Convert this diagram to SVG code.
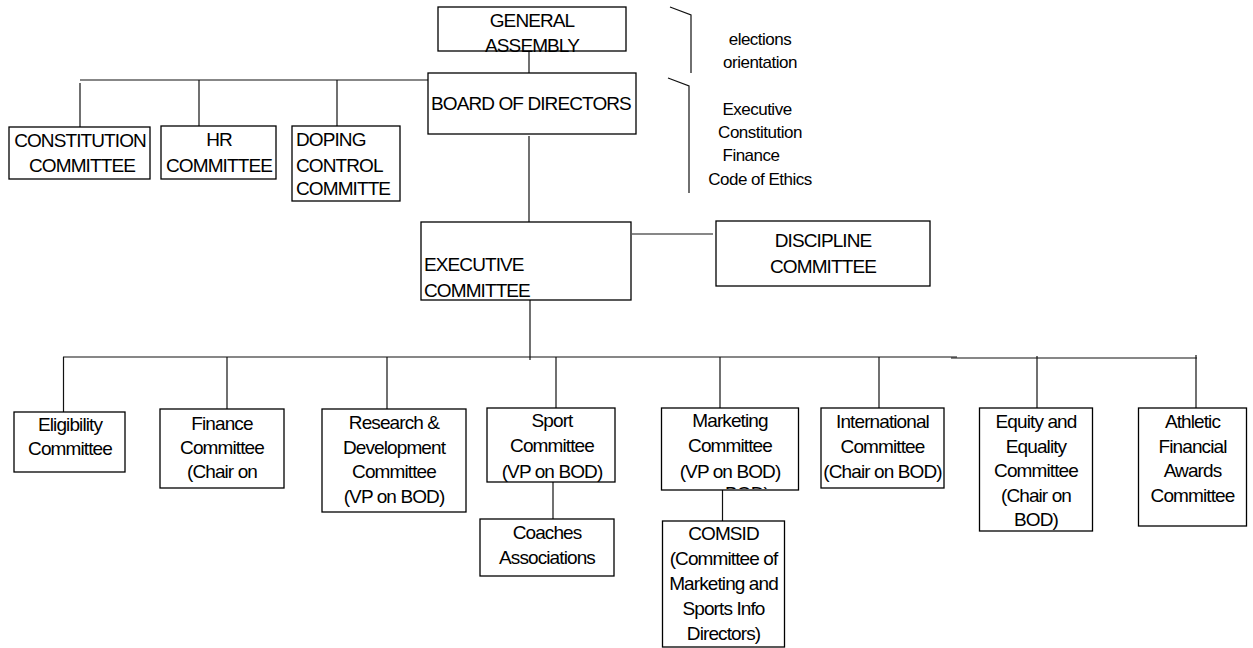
<svg xmlns="http://www.w3.org/2000/svg" width="1253" height="648" viewBox="0 0 1253 648">
<defs>
<style>
.box{fill:#fff;stroke:#000;stroke-width:1.3}
.ln{stroke:#111;stroke-width:1.2;fill:none}
text{font-family:"Liberation Sans",Arial,sans-serif;fill:#000}
.t{font-size:19px;letter-spacing:-0.9px}
.c{text-anchor:middle}
.n{font-size:17px;letter-spacing:-0.5px;text-anchor:middle}
</style>
<clipPath id="mkclip"><rect x="662" y="408" width="136" height="81"/></clipPath>
</defs>
<rect width="1253" height="648" fill="#fff"/>

<g id="connectors">
<line class="ln" x1="529" y1="51" x2="529" y2="73"/>
<line class="ln" x1="80" y1="80" x2="428" y2="80"/>
<line class="ln" x1="80" y1="83" x2="80" y2="127"/>
<line class="ln" x1="199" y1="80" x2="199" y2="126"/>
<line class="ln" x1="337" y1="80" x2="337" y2="126"/>
<line class="ln" x1="529" y1="136" x2="529" y2="222"/>
<line class="ln" x1="632" y1="234" x2="713" y2="234"/>
<line class="ln" x1="530" y1="300" x2="530" y2="360"/>
<line class="ln" x1="63" y1="357" x2="957" y2="357" stroke="#333"/>
<line class="ln" x1="951" y1="358" x2="1197" y2="358"/>
<line class="ln" x1="63.5" y1="357" x2="63.5" y2="412"/>
<line class="ln" x1="227" y1="357" x2="227" y2="409"/>
<line class="ln" x1="387" y1="357" x2="387" y2="409"/>
<line class="ln" x1="556" y1="357" x2="556" y2="408"/>
<line class="ln" x1="720" y1="357" x2="720" y2="408"/>
<line class="ln" x1="879" y1="357" x2="879" y2="408"/>
<line class="ln" x1="1037" y1="356" x2="1037" y2="408"/>
<line class="ln" x1="1196" y1="355" x2="1196" y2="408"/>
<line class="ln" x1="553" y1="482" x2="553" y2="519"/>
<line class="ln" x1="722.5" y1="479" x2="722.5" y2="521"/>
<polyline class="ln" points="670,7 691,15 691,73"/>
<polyline class="ln" points="668,78 689,86 689,193"/>
</g>

<g id="general-assembly">
<rect class="box" x="438" y="7" width="188" height="44"/>
<text class="t c" x="532" y="27">GENERAL</text>
<text class="t c" x="532" y="51.5">ASSEMBLY</text>
</g>

<g id="notes">
<text class="n" x="760" y="45">elections</text>
<text class="n" x="760" y="68">orientation</text>
<text class="n" x="757" y="115">Executive</text>
<text class="n" x="760" y="138">Constitution</text>
<text class="n" x="751" y="161">Finance</text>
<text class="n" x="760" y="185">Code of Ethics</text>
</g>

<g id="board-of-directors">
<rect class="box" x="428" y="73" width="208" height="61"/>
<text class="t" x="431" y="110">BOARD OF DIRECTORS</text>
</g>

<g id="constitution-committee">
<rect class="box" x="9" y="127" width="141" height="52"/>
<text class="t c" x="80" y="146.5">CONSTITUTION</text>
<text class="t c" x="82" y="171.5">COMMITTEE</text>
</g>

<g id="hr-committee">
<rect class="box" x="161" y="126" width="115" height="53"/>
<text class="t c" x="219" y="146">HR</text>
<text class="t c" x="219" y="171.5">COMMITTEE</text>
</g>

<g id="doping-control-committee">
<rect class="box" x="292" y="126" width="108" height="75"/>
<text class="t" x="296" y="146">DOPING</text>
<text class="t" x="296" y="171.5">CONTROL</text>
<text class="t" x="296" y="195">COMMITTE</text>
</g>

<g id="executive-committee">
<rect class="box" x="421" y="222" width="210" height="78"/>
<text class="t" x="424" y="271">EXECUTIVE</text>
<text class="t" x="424" y="297">COMMITTEE</text>
</g>

<g id="discipline-committee">
<rect class="box" x="716" y="221" width="214" height="65"/>
<text class="t c" x="823" y="247">DISCIPLINE</text>
<text class="t c" x="823" y="273">COMMITTEE</text>
</g>

<g id="eligibility-committee">
<rect class="box" x="14" y="412" width="111" height="60"/>
<text class="t c" x="70" y="431">Eligibility</text>
<text class="t c" x="70" y="455">Committee</text>
</g>

<g id="finance-committee">
<rect class="box" x="160" y="409" width="124" height="79"/>
<text class="t c" x="222" y="430">Finance</text>
<text class="t c" x="222" y="454">Committee</text>
<text class="t c" x="222" y="478">(Chair on</text>
</g>

<g id="research-development-committee">
<rect class="box" x="322" y="409" width="144" height="103"/>
<text class="t c" x="394" y="429">Research &amp;</text>
<text class="t c" x="394" y="454">Development</text>
<text class="t c" x="394" y="478">Committee</text>
<text class="t c" x="394" y="503">(VP on BOD)</text>
</g>

<g id="sport-committee">
<rect class="box" x="487" y="408" width="128" height="74"/>
<text class="t c" x="552" y="427">Sport</text>
<text class="t c" x="552" y="452">Committee</text>
<text class="t c" x="552" y="478">(VP on BOD)</text>
</g>

<g id="coaches-associations">
<rect class="box" x="480" y="519" width="134" height="57"/>
<text class="t c" x="547" y="539">Coaches</text>
<text class="t c" x="547" y="564">Associations</text>
</g>

<g id="marketing-committee">
<rect class="box" x="661.5" y="408" width="137" height="82"/>
<text class="t c" x="730" y="427">Marketing</text>
<text class="t c" x="730" y="452">Committee</text>
<text class="t c" x="730" y="478">(VP on BOD)</text>
<text class="t c" x="747" y="500" clip-path="url(#mkclip)">BOD)</text>
</g>

<g id="comsid">
<rect class="box" x="662.5" y="521" width="122" height="126"/>
<text class="t c" x="723.5" y="540">COMSID</text>
<text class="t c" x="723.5" y="565">(Committee of</text>
<text class="t c" x="723.5" y="590">Marketing and</text>
<text class="t c" x="723.5" y="615">Sports Info</text>
<text class="t c" x="723.5" y="640">Directors)</text>
</g>

<g id="international-committee">
<rect class="box" x="821" y="408" width="123" height="80"/>
<text class="t c" x="882.5" y="428">International</text>
<text class="t c" x="882.5" y="453">Committee</text>
<text class="t c" x="882.5" y="478">(Chair on BOD)</text>
</g>

<g id="equity-equality-committee">
<rect class="box" x="979.5" y="408" width="113" height="123"/>
<text class="t c" x="1036" y="428">Equity and</text>
<text class="t c" x="1036" y="453">Equality</text>
<text class="t c" x="1036" y="477">Committee</text>
<text class="t c" x="1036" y="502">(Chair on</text>
<text class="t c" x="1036" y="526">BOD)</text>
</g>

<g id="athletic-financial-awards-committee">
<rect class="box" x="1138.5" y="408" width="108" height="118"/>
<text class="t c" x="1192.5" y="428">Athletic</text>
<text class="t c" x="1192.5" y="453">Financial</text>
<text class="t c" x="1192.5" y="477">Awards</text>
<text class="t c" x="1192.5" y="502">Committee</text>
</g>
</svg>
